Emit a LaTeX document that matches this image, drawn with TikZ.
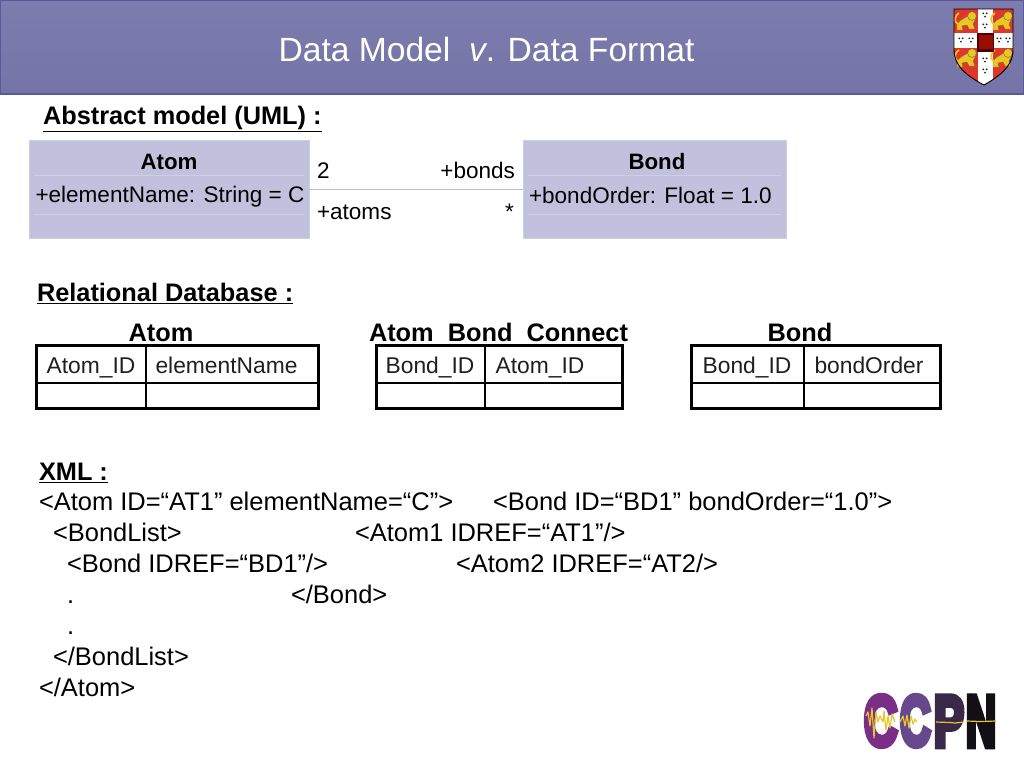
\documentclass[tikz,border=0pt]{standalone}
\usepackage{fontspec}
\usepackage{graphicx}
\setmainfont{Liberation Sans}
\newfontfamily\logofont[BoldFeatures={FakeBold=9}]{Liberation Sans}
\definecolor{hdr}{HTML}{7474A6}
\definecolor{hdrtop}{HTML}{7C7CAE}
\definecolor{hdrline}{HTML}{5A5A9A}
\definecolor{umlfill}{HTML}{C1C1DD}
\definecolor{umlline}{HTML}{CFCFE3}
\definecolor{crestred}{HTML}{E0352B}
\definecolor{lion}{HTML}{EDC51F}
\definecolor{wave}{HTML}{E6C52E}
\tikzset{
  lbl/.style={inner sep=0pt,outer sep=0pt,anchor=base west,text=black},
  sub/.style={lbl,font=\fontsize{19pt}{21pt}\selectfont\bfseries},
  subc/.style={sub,anchor=base},
  xmltxt/.style={lbl,font=\fontsize{19.1pt}{21pt}\selectfont},
  uml/.style={lbl,font=\fontsize{16.9pt}{20pt}\selectfont},
  umlb/.style={lbl,anchor=base,font=\fontsize{16.7pt}{20pt}\selectfont\bfseries},
  umlbox/.style={draw=umlline,line width=0.6pt,fill=umlfill,inner sep=0pt,outer sep=0pt},
  umlrule/.style={draw=umlline,line width=0.5pt},
  cell/.style={lbl,anchor=base,font=\fontsize{17.1pt}{20pt}\selectfont,text=black!88},
  frame/.style={draw=black,line width=2.25pt},
  grid/.style={draw=black,line width=1.1pt},
  spot/.style={fill=black!85,draw=none},
  lionbody/.style={fill=lion,draw=black!60,line width=0.3pt},
  logo/.style={inner sep=0pt,outer sep=0pt,anchor=south west},
  wv/.style={draw=wave,line width=0.9pt,line join=round}
}
\newcommand{\fitletter}[3]{\resizebox{#1}{#2}{\logofont\bfseries #3}}
\newcommand{\lowbar}{\raisebox{-1.6pt}{\_}}
\newcommand{\lionat}[2]{%
  \begin{scope}[shift={(#1,#2)}]
    \fill[lionbody] (-9,3) .. controls (-5,-3) and (1,-3) .. (4,-7) -- (10,-3) -- (7,3) -- (9,8) -- (3,8) -- (1,4) -- (-4,5) -- (-3,9) -- (-9,9) -- cycle;
    \fill[lionbody] (6,-5) circle (4.4);
    \draw[draw=lion,line width=1.3pt] (-8,3) .. controls (-13,1) and (-11,-6) .. (-7,-8);
  \end{scope}}
\newcommand{\spots}[2]{%
  \fill[spot] (#1-1.7,#2-1.6) circle (1);
  \fill[spot] (#1+1.7,#2-1.6) circle (1);
  \fill[spot] (#1,#2+1.6) circle (1);}
\begin{document}
\begin{tikzpicture}[x=0.75pt,y=-0.75pt]
\useasboundingbox (0,0) rectangle (1024,768);
\fill[white] (0,0) rectangle (1024,768);
% header
\shade[top color=hdrtop,bottom color=hdr] (0,0) rectangle (1024,94);
\draw[hdrline,line width=0.8pt] (0.4,0.4) rectangle (1023.6,94);
\node[lbl,anchor=base,text=white,font=\fontsize{25.2pt}{28pt}\selectfont] (title) at (486.5,61) {Data Model\ \ \textit{v}. Data Format};
% crest
\begin{scope}
  \fill[crestred] (954,9) -- (1013,9) -- (1013,50) .. controls (1013,68) and (996,78) .. (984,85) .. controls (971,78) and (954,68) .. (954,50) -- cycle;
  \begin{scope}
    \clip (954,9) -- (1013,9) -- (1013,50) .. controls (1013,68) and (996,78) .. (984,85) .. controls (971,78) and (954,68) .. (954,50) -- cycle;
    \fill[white] (978,9) rectangle (993,86);
    \fill[white] (954,33) rectangle (1013,48);
  \end{scope}
  \lionat{966}{21}
  \lionat{1002}{21}
  \lionat{966}{58}
  \lionat{1002}{58}
  \fill[black!70!red] (977,33) rectangle (994,52);
  \fill[red!55!black!90!orange] (978.5,35) rectangle (992.5,49);
  \spots{985}{15}\spots{985}{26}\spots{985}{60}\spots{985}{71}
  \spots{961}{40}\spots{971}{40}\spots{999}{40}\spots{1008}{40}
  \draw[black,line width=0.7pt] (954,9) -- (1013,9) -- (1013,50) .. controls (1013,68) and (996,78) .. (984,85) .. controls (971,78) and (954,68) .. (954,50) -- cycle;
\end{scope}
% headings
\node[sub] (absH) at (43,124) {\underline{Abstract model (UML) :}};
\node[sub] (relH) at (37,301) {\underline{Relational Database :}};
\node[sub] (xmlH) at (39,480) {\underline{XML :}};
% UML
\node[umlbox,minimum width=210pt,minimum height=73.5pt,anchor=north west] (atomBox) at (29,140) {};
\node[umlbox,minimum width=197.25pt,minimum height=73.5pt,anchor=north west] (bondBox) at (523,140) {};
\draw[umlrule] (34,175) -- (304,175) (34,214) -- (304,214);
\draw[umlrule] (528,175) -- (781,175) (528,214) -- (781,214);
\draw[draw=black!25,line width=0.7pt] (atomBox.east |- 0,189) coordinate (assocA) -- (bondBox.west |- 0,189) coordinate (assocB);
\node[umlb] (atomT) at (169,169) {Atom};
\node[uml] (atomA) at (35.5,202) {+elementName: String = C};
\node[umlb] (bondT) at (657,169) {Bond};
\node[uml] (bondA) at (529,203) {+bondOrder: Float = 1.0};
\node[uml] (m2) at (317,178) {2};
\node[uml,anchor=base east] (rbonds) at (515,178) {+bonds};
\node[uml] (ratoms) at (317,219) {+atoms};
\node[uml,anchor=base east] (mstar) at (514,219) {*};
% Relational titles
\node[subc] (t1) at (161,341) {Atom};
\node[sub] (t2) at (369,341) {Atom\lowbar Bond\lowbar Connect};
\node[subc] (t3) at (800,341) {Bond};
% tables
\draw[frame] (36.5,345.5) rectangle (318.5,408.5);
\draw[grid] (146,345) -- (146,409) (36,383) -- (319,383);
\draw[frame] (376.5,345.5) rectangle (622.5,408.5);
\draw[grid] (485,345) -- (485,409) (376,383) -- (623,383);
\draw[frame] (691.5,345.5) rectangle (940.5,408.5);
\draw[grid] (804,345) -- (804,409) (691,383) -- (941,383);
\node[cell] (c11) at (91,373) {Atom\_ID};
\node[cell] (c12) at (226.5,373) {elementName};
\node[cell] (c21) at (430,373) {Bond\_ID};
\node[cell] (c22) at (540,373) {Atom\_ID};
\node[cell] (c31) at (747,373) {Bond\_ID};
\node[cell] (c32) at (869,373) {bondOrder};
% XML
\node[xmltxt] (x1) at (39,510) {<Atom ID=“AT1” elementName=“C”>};
\node[xmltxt] (x1b) at (493,510) {<Bond ID=“BD1” bondOrder=“1.0”>};
\node[xmltxt] (x2) at (53,541) {<BondList>};
\node[xmltxt] (x2b) at (355,541) {<Atom1 IDREF=“AT1”/>};
\node[xmltxt] (x3) at (67,572) {<Bond IDREF=“BD1”/>};
\node[xmltxt] (x3b) at (456,572) {<Atom2 IDREF=“AT2/>};
\node[xmltxt] (x4) at (67,603) {.};
\node[xmltxt] (x4b) at (291,603) {</Bond>};
\node[xmltxt] (x5) at (67,634) {.};
\node[xmltxt] (x6) at (53,665) {</BondList>};
\node[xmltxt] (x7) at (39,696) {</Atom>};
% logo
\node[logo,text={rgb,255:red,122;green,46;blue,134}] (lc1) at (864,746) {\fitletter{25pt}{37pt}{C}};
\node[logo,text={rgb,255:red,104;green,72;blue,140}] (lc2) at (900,746) {\fitletter{23pt}{37pt}{C}};
\node[logo,text={rgb,255:red,58;green,40;blue,72}] (lp) at (934,746) {\fitletter{22.5pt}{37pt}{P}};
\node[logo,text={rgb,255:red,18;green,16;blue,20}] (ln) at (966,746) {\fitletter{22.5pt}{37pt}{N}};
\draw[wv] (866,716) -- (868,712) -- (870,726) -- (872,708) -- (874,738) -- (876,712) -- (878,722) -- (880,716) -- (883,722) -- (884,711) -- (886,730) -- (888,716) -- (890,728) -- (892,714) -- (895,722);
\draw[wv] (900,722) -- (903,716) -- (905,726) -- (907,715) -- (909,728) -- (911,716) -- (913,724) -- (915,719) -- (917,722);
\draw[wv] (936,722) -- (950,722.5) -- (955,723) -- (964,722);
\draw[wv] (967,721) -- (980,721.5) -- (996,721);
\end{tikzpicture}
\end{document}
